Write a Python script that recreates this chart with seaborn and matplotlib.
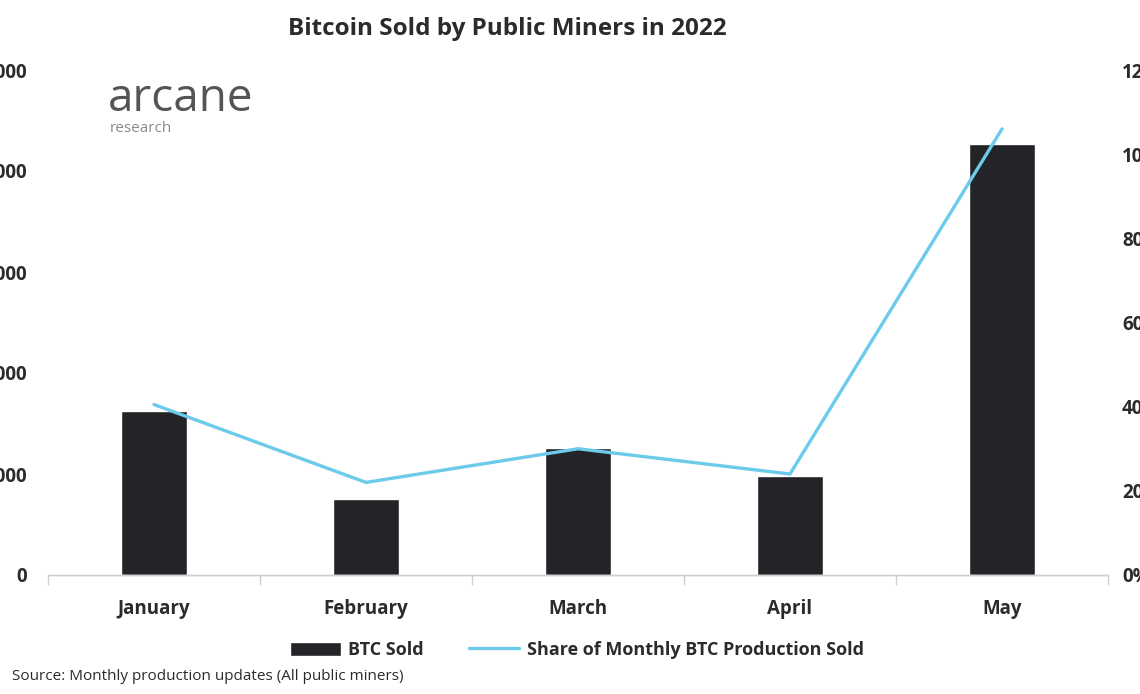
import matplotlib
matplotlib.use("Agg")
import matplotlib.pyplot as plt
import matplotlib.ticker as mticker
import seaborn as sns
import pandas as pd

# Dados
months = ["January", "February", "March", "April", "May"]
btc_sold = [1620, 750, 1260, 980, 4270]
share_sold = [40.5, 22.0, 30.0, 24.0, 106.0]  # em %

left_ticks = [0, 1000, 2000, 3000, 4000, 5000]
right_ticks = [0, 20, 40, 60, 80, 100, 120]

BAR_COLOR = "#222428"
LINE_COLOR = "#6ccbea"
TEXT_COLOR = "#2b2b2b"

sns.set_theme(style="white")
plt.rcParams["font.family"] = ["Open Sans", "DejaVu Sans"]

df = pd.DataFrame({"month": months, "btc": btc_sold, "share": share_sold})

fig = plt.figure(figsize=(11.4, 6.94), dpi=100)
ax = fig.add_axes([48 / 1140, 1 - 575 / 694, 1060 / 1140, 505 / 694])

sns.barplot(data=df, x="month", y="btc", color=BAR_COLOR, width=0.31,
            saturation=1, ax=ax, label="BTC Sold")
ax.set_ylim(0, 5000)
ax.set_xlim(-0.5, 4.5)
ax.set_yticks(left_ticks)
ax.set_xlabel("")
ax.set_ylabel("")

ax2 = ax.twinx()
sns.lineplot(data=df, x="month", y="share", color=LINE_COLOR, linewidth=2.4,
             sort=False, ax=ax2, label="Share of Monthly BTC Production Sold")
ax2.set_ylim(0, 120)
ax2.set_yticks(right_ticks)
ax2.yaxis.set_major_formatter(mticker.FuncFormatter(lambda v, p: f"{v:.0f}%"))
ax2.set_ylabel("")
ax2.get_legend().remove()

for a in (ax, ax2):
    for s in ("top", "left", "right"):
        a.spines[s].set_visible(False)
    a.spines["bottom"].set_color("#d0d0d0")
    a.spines["bottom"].set_linewidth(1)

ax.tick_params(axis="y", length=0, pad=15, labelsize=13.5, labelcolor=TEXT_COLOR)
ax2.tick_params(axis="y", length=0, pad=10, labelsize=13.5, labelcolor=TEXT_COLOR)
for lab in ax.get_yticklabels() + ax2.get_yticklabels():
    lab.set_fontweight("bold")

# ticks separadores entre categorias
ax.set_xticks([0, 1, 2, 3, 4])
ax.set_xticklabels(months, fontsize=13.5, fontweight="bold", color=TEXT_COLOR)
ax.set_xticks([-0.5, 0.5, 1.5, 2.5, 3.5, 4.5], minor=True)
ax.tick_params(axis="x", which="major", length=0, pad=17)
ax.tick_params(axis="x", which="minor", length=7, color="#d0d0d0", width=1,
               bottom=True, direction="out")

fig.text(507 / 1140, 1 - 29 / 694, "Bitcoin Sold by Public Miners in 2022",
         ha="center", va="center", fontsize=17.5, fontweight="bold", color=TEXT_COLOR)

# logo
fig.text(108 / 1140, 1 - 99 / 694, "arcane", ha="left", va="center",
         fontsize=33, color="#555555", fontweight="normal")
fig.text(110 / 1140, 1 - 128 / 694, "research", ha="left", va="center",
         fontsize=11, color="#8a8a8a")

handles1, labels1 = ax.get_legend_handles_labels()
handles2, labels2 = ax2.get_legend_handles_labels()
if ax.get_legend() is not None:
    ax.get_legend().remove()
leg = fig.legend(handles1 + handles2, labels1 + labels2, loc="center",
                 bbox_to_anchor=(577 / 1140, 1 - 650 / 694), ncol=2, frameon=False,
                 fontsize=13, handlelength=2.8, handleheight=0.8, columnspacing=2.5,
                 handletextpad=0.4)
for t in leg.get_texts():
    t.set_fontweight("bold")
    t.set_color(TEXT_COLOR)

fig.text(12 / 1140, 1 - 676 / 694, "Source: Monthly production updates (All public miners)",
         ha="left", va="center", fontsize=11, color=TEXT_COLOR)

fig.savefig("out.png", dpi=100, facecolor="white")
